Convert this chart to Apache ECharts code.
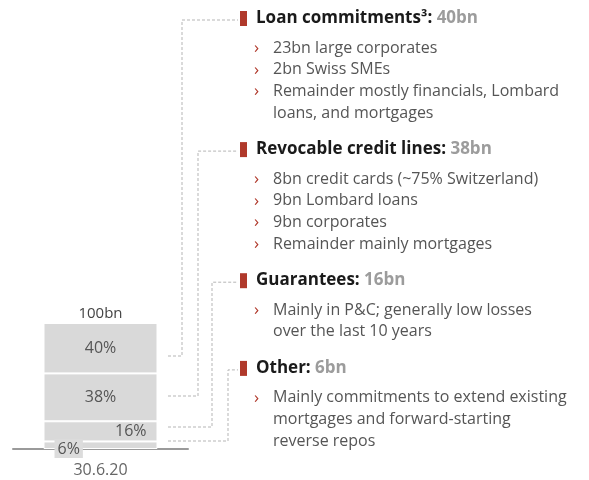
<!DOCTYPE html>
<html>
<head>
<meta charset="utf-8">
<script src="https://cdn.jsdelivr.net/npm/echarts@6/dist/echarts.min.js"></script>
<style>
  html, body { margin: 0; padding: 0; background: #fff; }
  #main { width: 589px; height: 480px; }
</style>
</head>
<body>
<div id="main"></div>
<script>
// data
var categories = ['30.6.20'];
var segmentNames = ['Loan commitments³', 'Revocable credit lines', 'Guarantees', 'Other'];
var shares = [40, 38, 16, 6];
var amounts = ['40bn', '38bn', '16bn', '6bn'];
var totalLabel = '100bn';
var bullets = [
  ['23bn large corporates', '2bn Swiss SMEs', 'Remainder mostly financials, Lombard\nloans, and mortgages'],
  ['8bn credit cards (~75% Switzerland)', '9bn Lombard loans', '9bn corporates', 'Remainder mainly mortgages'],
  ['Mainly in P&C; generally low losses\nover the last 10 years'],
  ['Mainly commitments to extend existing\nmortgages and forward-starting\nreverse repos']
];

var myChart = echarts.init(document.getElementById('main'));
var FONT = '"Open Sans", "Noto Sans", sans-serif';
var RED = '#b0392b';

// label placement per segment (top to bottom)
var labelStyles = [
  { position: 'inside' },
  { position: 'inside' },
  { position: 'insideRight', distance: 11 },
  { position: 'insideBottomLeft', distance: 0, offset: [11, 9],
    backgroundColor: '#dcdcdc', padding: [2, 3, 1, 3] }
];

// stacked bottom-up: reverse order
var series = [];
for (var i = shares.length - 1; i >= 0; i--) {
  series.push({
    name: segmentNames[i],
    type: 'bar',
    stack: 'total',
    barWidth: 114,
    data: [shares[i]],
    itemStyle: { color: '#d9d9d9', borderColor: '#fff', borderWidth: 1 },
    label: Object.assign({
      show: true,
      formatter: shares[i] + '%',
      color: '#555',
      fontSize: 16,
      fontFamily: FONT
    }, labelStyles[i]),
    z: i === shares.length - 1 ? 3 : 2
  });
}
// total on top
series.push({
  name: 'total',
  type: 'bar',
  stack: 'total',
  barWidth: 114,
  data: [0],
  itemStyle: { color: 'transparent' },
  label: {
    show: true, position: 'top', distance: 2,
    formatter: totalLabel, color: '#444', fontSize: 15, fontFamily: FONT
  }
});

// right-hand text panel
var graphics = [];
var linkY = [356, 396, 427, 441];
var linkX = [182, 198, 212, 228];
var y = 18;
var lineH = 21.7;
for (var k = 0; k < segmentNames.length; k++) {
  // red marker
  graphics.push({
    type: 'rect', shape: { x: 240, y: y - 7, width: 7, height: 15 },
    style: { fill: RED }
  });
  // heading
  graphics.push({
    type: 'text', x: 256, y: y,
    style: {
      text: '{b|' + segmentNames[k] + ': }{g|' + amounts[k] + '}',
      verticalAlign: 'middle',
      rich: {
        b: { fontSize: 17, fontWeight: 'bold', fill: '#1a1a1a', fontFamily: FONT },
        g: { fontSize: 17, fontWeight: 'bold', fill: '#9c9c9c', fontFamily: FONT }
      }
    }
  });
  // connector
  graphics.push({
    type: 'polyline',
    shape: { points: [[168, linkY[k]], [linkX[k], linkY[k]], [linkX[k], y + 2], [238, y + 2]] },
    style: { stroke: '#b5b5b5', lineWidth: 1, lineDash: [3, 2], fill: null }
  });
  var by = y + 30;
  bullets[k].forEach(function (b) {
    graphics.push({
      type: 'text', x: 254, y: by,
      style: { text: '›', fill: RED, fontSize: 17, fontFamily: FONT, verticalAlign: 'middle' }
    });
    var lines = b.split('\n');
    lines.forEach(function (ln, j) {
      graphics.push({
        type: 'text', x: 273, y: by + j * lineH,
        style: { text: ln, fill: '#555', fontSize: 16, fontFamily: FONT, verticalAlign: 'middle' }
      });
    });
    by += lines.length * lineH;
  });
  y = by - lineH + 36;
}

var option = {
  animation: false,
  backgroundColor: '#fff',
  grid: { left: 13, right: 401, top: 323, bottom: 31 },
  xAxis: {
    type: 'category',
    data: categories,
    axisLine: { lineStyle: { color: '#9a9a9a', width: 2 } },
    axisTick: { show: false },
    axisLabel: { color: '#666', fontSize: 16, fontFamily: FONT, margin: 13 }
  },
  yAxis: {
    type: 'value', min: 0, max: 100, show: false
  },
  series: series,
  graphic: graphics
};

myChart.setOption(option);
</script>
</body>
</html>
